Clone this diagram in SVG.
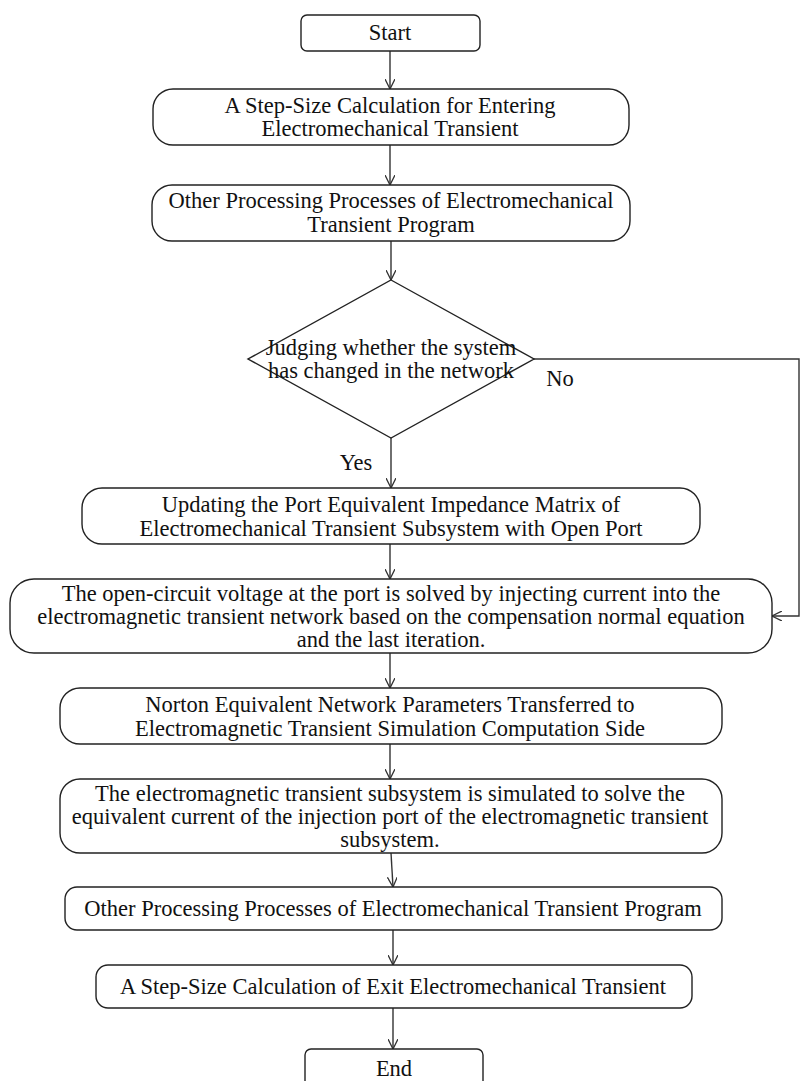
<svg xmlns="http://www.w3.org/2000/svg" width="800" height="1081" viewBox="0 0 800 1081">
<style>
.box{fill:#fff;stroke:#222;stroke-width:1.4}
.t{font-family:"Liberation Serif","Times New Roman",serif;font-size:22.5px;fill:#111;text-anchor:middle}
.c{fill:none;stroke:#333;stroke-width:1.4}
</style>
<defs>
<marker id="ah" viewBox="0 0 10 10" refX="10" refY="5" markerWidth="10" markerHeight="10" markerUnits="userSpaceOnUse" orient="auto">
<path d="M0,0 L10,5 L0,10" fill="none" stroke="#333" stroke-width="1.3"/>
</marker>
</defs>
<rect width="800" height="1081" fill="#fff"/>
<g id="connectors">
<line class="c" x1="390" y1="51" x2="390" y2="89" marker-end="url(#ah)"/>
<line class="c" x1="390" y1="145" x2="390" y2="185" marker-end="url(#ah)"/>
<line class="c" x1="391" y1="241" x2="391" y2="280" marker-end="url(#ah)"/>
<line class="c" x1="391" y1="438" x2="391" y2="488" marker-end="url(#ah)"/>
<line class="c" x1="390" y1="544" x2="390" y2="579" marker-end="url(#ah)"/>
<line class="c" x1="390" y1="653" x2="390" y2="688" marker-end="url(#ah)"/>
<line class="c" x1="390" y1="744" x2="390" y2="779" marker-end="url(#ah)"/>
<line class="c" x1="391" y1="853" x2="393" y2="887" marker-end="url(#ah)"/>
<line class="c" x1="393" y1="930" x2="393" y2="965" marker-end="url(#ah)"/>
<line class="c" x1="393" y1="1008" x2="393" y2="1049" marker-end="url(#ah)"/>
<polyline class="c" points="534,359 799,359 799,616 772,616" marker-end="url(#ah)"/>
<text class="t" x="356" y="470">Yes</text>
<text class="t" x="560" y="386">No</text>
</g>
<g id="start"><rect class="box" x="301" y="15" width="179" height="36" rx="6"/><text class="t" x="390" y="40">Start</text></g>
<g id="entering"><rect class="box" x="153" y="89" width="476" height="56" rx="20"/><text class="t" x="390" y="113">A Step-Size Calculation for Entering</text><text class="t" x="390" y="136">Electromechanical Transient</text></g>
<g id="other1"><rect class="box" x="152" y="185" width="478" height="56" rx="20"/><text class="t" x="391" y="208">Other Processing Processes of Electromechanical</text><text class="t" x="391" y="232">Transient Program</text></g>
<g id="judge"><polygon class="box" points="391,280 534,359 391,438 248,359"/><text class="t" x="391" y="355">Judging whether the system</text><text class="t" x="391" y="378">has changed in the network</text></g>
<g id="update"><rect class="box" x="82" y="488" width="618" height="56" rx="20"/><text class="t" x="391" y="512">Updating the Port Equivalent Impedance Matrix of</text><text class="t" x="391" y="536">Electromechanical Transient Subsystem with Open Port</text></g>
<g id="opencircuit"><rect class="box" x="10" y="579" width="762" height="74" rx="24"/><text class="t" x="391" y="601">The open-circuit voltage at the port is solved by injecting current into the</text><text class="t" x="391" y="624">electromagnetic transient network based on the compensation normal equation</text><text class="t" x="391" y="647">and the last iteration.</text></g>
<g id="norton"><rect class="box" x="60" y="688" width="662" height="56" rx="20"/><text class="t" x="390" y="712">Norton Equivalent Network Parameters Transferred to</text><text class="t" x="390" y="736">Electromagnetic Transient Simulation Computation Side</text></g>
<g id="simulate"><rect class="box" x="60" y="779" width="662" height="74" rx="20"/><text class="t" x="390" y="801">The electromagnetic transient subsystem is simulated to solve the</text><text class="t" x="390" y="824">equivalent current of the injection port of the electromagnetic transient</text><text class="t" x="390" y="847">subsystem.</text></g>
<g id="other2"><rect class="box" x="65" y="887" width="657" height="43" rx="12"/><text class="t" x="393" y="916">Other Processing Processes of Electromechanical Transient Program</text></g>
<g id="exit"><rect class="box" x="96" y="965" width="596" height="43" rx="12"/><text class="t" x="393" y="994">A Step-Size Calculation of Exit Electromechanical Transient</text></g>
<g id="end"><rect class="box" x="305" y="1049" width="178" height="50" rx="6"/><text class="t" x="394" y="1076">End</text></g>
</svg>
